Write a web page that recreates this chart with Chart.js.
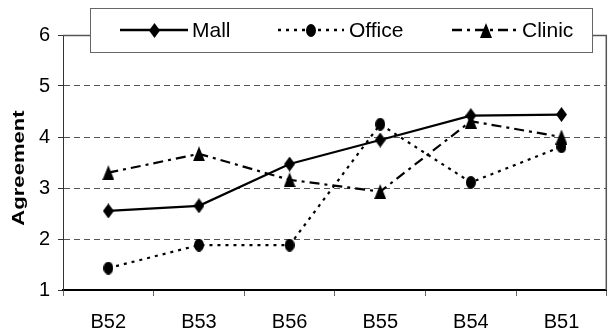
<!DOCTYPE html>
<html>
<head>
<meta charset="utf-8">
<script src="https://cdn.jsdelivr.net/npm/chart.js@4"></script>
<style>
  body { margin: 0; background: #fff; }
  #wrap { width: 615px; height: 336px; position: relative; }
</style>
</head>
<body>
<div id="wrap"><canvas id="grafico"></canvas></div>
<script>
const categorias = ['B52', 'B53', 'B56', 'B55', 'B54', 'B51'];
const mall = [2.55, 2.65, 3.47, 3.94, 4.42, 4.44];
const office = [1.43, 1.88, 1.88, 4.25, 3.11, 3.81];
const clinic = [3.30, 3.67, 3.16, 2.93, 4.31, 4.00];
const yTicks = [1, 2, 3, 4, 5, 6];

const FONTE = "'Liberation Sans Narrow', 'Arial Narrow', 'Liberation Sans', Arial, sans-serif";

// marcadores um pouco mais altos que largos, como no original
function marcador(tipo, w, h) {
  const c = document.createElement('canvas');
  c.width = w; c.height = h;
  const g = c.getContext('2d');
  g.fillStyle = '#000';
  g.beginPath();
  if (tipo === 'diamante') {
    g.moveTo(w / 2, 0); g.lineTo(w, h / 2); g.lineTo(w / 2, h); g.lineTo(0, h / 2);
  } else if (tipo === 'circulo') {
    g.ellipse(w / 2, h / 2, w / 2, h / 2, 0, 0, Math.PI * 2);
  } else {
    g.moveTo(w / 2, 0); g.lineTo(w, h); g.lineTo(0, h);
  }
  g.closePath();
  g.fill();
  return c;
}

const pDiamante = marcador('diamante', 11, 15);
const pCirculo = marcador('circulo', 10, 13);
const pTriangulo = marcador('triangulo', 12, 15);

const series = [
  { label: 'Mall', data: mall, dash: [], ponto: pDiamante },
  { label: 'Office', data: office, dash: [3, 5], ponto: pCirculo },
  { label: 'Clinic', data: clinic, dash: [10, 5, 3, 5], ponto: pTriangulo }
];

const moldura = {
  id: 'moldura',
  beforeDatasetsDraw(chart) {
    const { ctx, chartArea: a } = chart;
    ctx.save();
    ctx.strokeStyle = '#555';
    ctx.lineWidth = 1.5;
    ctx.beginPath();
    ctx.moveTo(a.left, a.top + 0.5);
    ctx.lineTo(a.right - 0.5, a.top + 0.5);
    ctx.lineTo(a.right - 0.5, a.bottom);
    ctx.stroke();
    ctx.restore();
  }
};

const tituloY = {
  id: 'tituloY',
  afterDraw(chart) {
    const ctx = chart.ctx;
    ctx.save();
    ctx.translate(20, 168);
    ctx.rotate(-Math.PI / 2);
    ctx.scale(1.38, 1);
    ctx.font = "bold 16px 'Liberation Sans', Arial, sans-serif";
    ctx.fillStyle = '#000';
    ctx.textAlign = 'center';
    ctx.textBaseline = 'middle';
    ctx.fillText('Agreement', 0, 0);
    ctx.restore();
  }
};

const legenda = {
  id: 'legenda',
  afterDraw(chart) {
    const ctx = chart.ctx;
    const itens = [
      { x1: 120, x2: 188, tx: 192 },
      { x1: 278, x2: 344, tx: 349 },
      { x1: 452, x2: 520, tx: 522 }
    ];
    const cy = 30;
    ctx.save();
    ctx.fillStyle = '#fff';
    ctx.fillRect(90, 8, 502, 44);
    ctx.strokeStyle = '#666';
    ctx.lineWidth = 1;
    ctx.strokeRect(90.5, 8.5, 502, 44);
    chart.data.datasets.forEach((ds, i) => {
      const it = itens[i];
      ctx.strokeStyle = '#000';
      ctx.lineWidth = 2.5;
      ctx.setLineDash(ds.borderDash || []);
      ctx.beginPath();
      ctx.moveTo(it.x1, cy);
      ctx.lineTo(it.x2, cy);
      ctx.stroke();
      ctx.setLineDash([]);
      const img = ds.pointStyle;
      ctx.drawImage(img, Math.round((it.x1 + it.x2) / 2 - img.width / 2), Math.round(cy - img.height / 2));
      ctx.fillStyle = '#000';
      ctx.font = '21px ' + FONTE;
      ctx.textAlign = 'left';
      ctx.textBaseline = 'middle';
      ctx.fillText(ds.label, it.tx, cy + 1);
    });
    ctx.restore();
  }
};

new Chart(document.getElementById('grafico'), {
  type: 'line',
  data: {
    labels: categorias,
    datasets: series.map(s => ({
      label: s.label,
      data: s.data,
      borderColor: '#000',
      backgroundColor: '#000',
      borderWidth: 2.2,
      borderDash: s.dash,
      pointStyle: s.ponto,
      pointRadius: 6,
      tension: 0,
      fill: false
    }))
  },
  options: {
    responsive: true,
    maintainAspectRatio: false,
    animation: false,
    events: [],
    layout: { padding: { top: 35, right: 2, left: 0, bottom: 0 } },
    plugins: {
      legend: { display: false },
      tooltip: { enabled: false }
    },
    scales: {
      x: {
        offset: true,
        grid: {
          offset: true,
          drawOnChartArea: false,
          drawTicks: true,
          tickLength: 6,
          tickColor: '#666',
          tickWidth: 1
        },
        border: { color: '#000', width: 2 },
        ticks: {
          color: '#000',
          padding: 14,
          font: { family: FONTE, size: 20 },
          maxRotation: 0
        },
        afterFit(scale) { scale.height = 46; }
      },
      y: {
        min: 1,
        max: 6,
        afterBuildTicks(scale) { scale.ticks = yTicks.map(v => ({ value: v })); },
        grid: {
          color: ctx => (ctx.tick && (ctx.tick.value === 1 || ctx.tick.value === 6)) ? 'rgba(0,0,0,0)' : '#555',
          lineWidth: 1,
          tickLength: 5,
          tickColor: '#333',
          tickBorderDash: []
        },
        border: { color: '#333', width: 1, dash: [6, 4] },
        ticks: {
          color: '#000',
          padding: 8,
          font: { family: FONTE, size: 20 }
        },
        afterFit(scale) { scale.width = 63; }
      }
    }
  },
  plugins: [moldura, tituloY, legenda]
});
</script>
</body>
</html>
